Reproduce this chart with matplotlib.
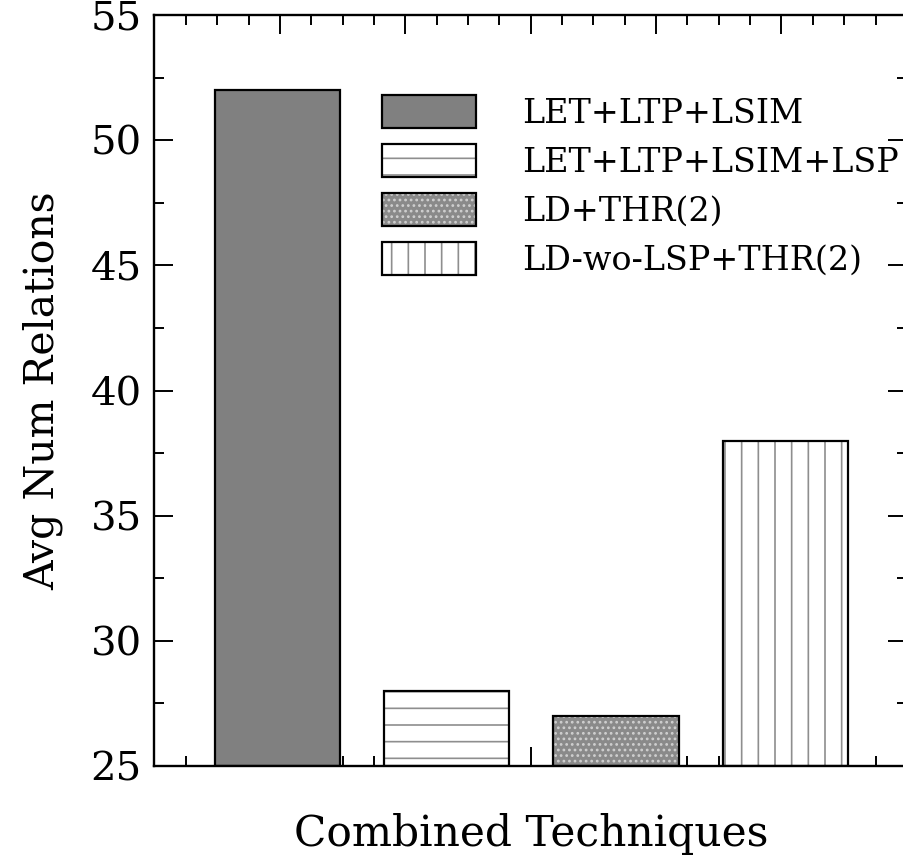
import numpy as np
import matplotlib
matplotlib.use("Agg")
import matplotlib.pyplot as plt
from matplotlib.legend_handler import HandlerTuple
from matplotlib.ticker import MultipleLocator

# data
techniques = ["LET+LTP+LSIM", "LET+LTP+LSIM+LSP", "LD+THR(2)", "LD-wo-LSP+THR(2)"]
avg_relations = [52, 28, 27, 38]
positions = [0.98, 2.33, 3.68, 5.03]

# fill / hatch style for each bar
faces = ["#808080", "white", "#8a8a8a", "white"]
hatches = [None, "-", "...", "|"]
hatch_colors = ["#808080", "#8e8e8e", "#d0d0d0", "#8e8e8e"]

plt.rcParams["font.family"] = ["DejaVu Serif"]
plt.rcParams["hatch.linewidth"] = 1.2

fig = plt.figure(figsize=(9.04, 8.56), dpi=100)
ax = fig.add_axes([154.5 / 904, 90 / 856, 752.4 / 904, 751 / 856])

handles = []
for x, v, fc, h, hc, name in zip(positions, avg_relations, faces, hatches, hatch_colors, techniques):
    # hatch layer (no outline) and an outline layer on top
    b1 = ax.bar(x, v - 25, bottom=25, width=1.0, color=fc, hatch=h,
                edgecolor=hc, linewidth=0, zorder=2)
    b2 = ax.bar(x, v - 25, bottom=25, width=1.0, fill=False,
                edgecolor="black", linewidth=1.6, zorder=3)
    handles.append((b1.patches[0], b2.patches[0]))

ax.set_xlim(0, 6)
ax.set_ylim(25, 55)
ax.xaxis.set_major_locator(MultipleLocator(1))
ax.xaxis.set_minor_locator(MultipleLocator(0.25))
ax.yaxis.set_major_locator(MultipleLocator(5))
ax.yaxis.set_minor_locator(MultipleLocator(2.5))
ax.set_xticklabels([])
ax.tick_params(which="both", direction="in", top=True, right=True, width=1.4)
ax.tick_params(which="major", length=13.5, labelsize=29, pad=9)
ax.tick_params(which="minor", length=7)
for s in ax.spines.values():
    s.set_linewidth(1.7)

ax.set_ylabel("Avg Num Relations", fontsize=29.5)
ax.yaxis.set_label_coords(-0.121, 0.5)
ax.set_xlabel("Combined Techniques", fontsize=30.5)
ax.xaxis.set_label_coords(0.5, -0.062)

ax.legend(handles, techniques, handler_map={tuple: HandlerTuple(ndivide=1)},
          loc="upper left", bbox_to_anchor=(0.3024, 0.893), frameon=False,
          fontsize=24, handlelength=2.82, handleheight=1.15, handletextpad=1.38,
          labelspacing=0.42, borderpad=0, borderaxespad=0)

fig.savefig("out.png", dpi=100)
